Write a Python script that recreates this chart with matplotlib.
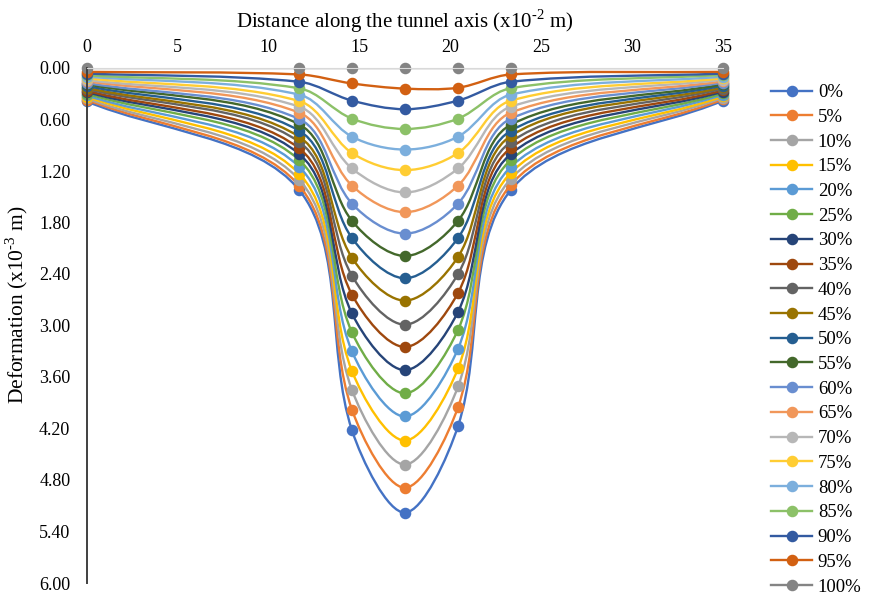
import numpy as np
import matplotlib
matplotlib.use("Agg")
import matplotlib.pyplot as plt
from matplotlib.path import Path
from matplotlib.patches import PathPatch
from matplotlib.lines import Line2D

plt.rcParams['font.family'] = ['Liberation Serif', 'DejaVu Serif']
plt.rcParams['mathtext.fontset'] = 'custom'
plt.rcParams['mathtext.rm'] = 'Liberation Serif'

# distance along the tunnel axis (x10^-2 m)
distance = [0, 11.67, 14.58, 17.5, 20.42, 23.33, 35]
labels = ['%d%%' % p for p in range(0, 101, 5)]

# deformation (x10^-3 m) at each distance, series 0% ... 100%
at_0 = [0.39, 0.37, 0.355, 0.335, 0.32, 0.30, 0.28, 0.265, 0.245, 0.23, 0.21,
        0.19, 0.175, 0.155, 0.14, 0.12, 0.10, 0.085, 0.065, 0.045, 0.00]
at_11 = [1.42, 1.37, 1.30, 1.23, 1.15, 1.07, 1.00, 0.935, 0.86, 0.80, 0.73,
         0.656, 0.594, 0.52, 0.45, 0.385, 0.31, 0.236, 0.16, 0.075, 0.00]
at_14 = [4.22, 3.98, 3.75, 3.53, 3.30, 3.08, 2.86, 2.64, 2.42, 2.21, 1.98,
         1.78, 1.58, 1.37, 1.17, 0.99, 0.80, 0.59, 0.38, 0.18, 0.00]
at_17 = [5.18, 4.89, 4.62, 4.34, 4.06, 3.79, 3.52, 3.25, 2.99, 2.71, 2.45,
         2.19, 1.93, 1.68, 1.45, 1.19, 0.95, 0.71, 0.48, 0.24, 0.00]
at_20 = [4.17, 3.95, 3.71, 3.50, 3.27, 3.05, 2.84, 2.62, 2.40, 2.20, 1.98,
         1.78, 1.58, 1.37, 1.17, 0.99, 0.80, 0.59, 0.38, 0.23, 0.00]
at_23 = [1.42, 1.36, 1.29, 1.22, 1.15, 1.07, 1.00, 0.93, 0.86, 0.79, 0.73,
         0.66, 0.59, 0.52, 0.45, 0.38, 0.31, 0.235, 0.16, 0.075, 0.00]
at_35 = [0.38, 0.365, 0.345, 0.33, 0.31, 0.295, 0.275, 0.26, 0.24, 0.225, 0.205,
         0.19, 0.17, 0.155, 0.135, 0.12, 0.10, 0.08, 0.065, 0.045, 0.00]

colors = ['#4472C4', '#ED7D31', '#A5A5A5', '#FFC000', '#5B9BD5', '#70AD47',
          '#264478', '#9E480E', '#636363', '#997300', '#255E91', '#43682B',
          '#698ED0', '#F1975A', '#B7B7B7', '#FFCD33', '#7CAFDD', '#8CC168',
          '#335AA1', '#D26012', '#848484']

W, H = 869, 599
fig = plt.figure(figsize=(W / 100, H / 100), dpi=100)
ax = fig.add_axes([87 / W, 1 - 583 / H, (723 - 87) / W, (583 - 68) / H])
ax.set_xlim(0, 35)
ax.set_ylim(6, 0)


def smooth_path(xs, ys):
    # excel-like smoothed line: bezier segments, tangents worked out in pixels
    pts = ax.transData.transform(np.column_stack([xs, ys]))
    n = len(pts)
    verts = [pts[0]]
    codes = [Path.MOVETO]
    for i in range(n - 1):
        p0 = pts[max(i - 1, 0)]
        p1 = pts[i]
        p2 = pts[i + 1]
        p3 = pts[min(i + 2, n - 1)]
        d01 = np.hypot(*(p1 - p0))
        d12 = np.hypot(*(p2 - p1))
        d23 = np.hypot(*(p3 - p2))
        c1 = p1 + (p2 - p0) * d12 / (3 * (d01 + d12))
        c2 = p2 - (p3 - p1) * d12 / (3 * (d12 + d23))
        verts += [c1, c2, p2]
        codes += [Path.CURVE4] * 3
    verts = ax.transData.inverted().transform(np.array(verts))
    return Path(verts, codes)


columns = [at_0, at_11, at_14, at_17, at_20, at_23, at_35]
handles = []
for k, lab in enumerate(labels):
    ys = [col[k] for col in columns]
    ax.add_patch(PathPatch(smooth_path(distance, ys), facecolor='none',
                           edgecolor=colors[k], lw=1.7, zorder=2 + k * 0.01,
                           capstyle='round', joinstyle='round'))
    ax.plot(distance, ys, linestyle='none', marker='o', ms=7.3,
            color=colors[k], zorder=2 + k * 0.01, clip_on=False)
    handles.append(Line2D([0], [0], color=colors[k], lw=1.7, marker='o', ms=7.3))

ax.xaxis.tick_top()
ax.xaxis.set_label_position('top')
ax.set_xticks(np.arange(0, 36, 5))
ax.set_yticks(np.arange(0, 6.01, 0.6))
ax.set_yticklabels(['%.2f' % v for v in np.arange(0, 6.01, 0.6)])
ax.tick_params(length=0, labelsize=13, colors='#000000')
ax.tick_params(axis='y', pad=12)
ax.tick_params(axis='x', pad=9)
ax.set_xlabel(r'Distance along the tunnel axis (x10$^{\text{-2}}$ m)',
              fontsize=15, labelpad=8)
ax.set_ylabel(r'Deformation (x10$^{\text{-3}}$ m)', fontsize=15.5)
ax.yaxis.set_label_coords(-0.089, 0.54)

for s in ['right', 'bottom']:
    ax.spines[s].set_visible(False)
ax.spines['top'].set_color('#D9D9D9')
ax.spines['left'].set_color('#404040')
ax.spines['left'].set_linewidth(1.4)

fig.legend(handles, labels, loc='upper left', bbox_to_anchor=(771 / W, 1 - 84 / H),
           frameon=False, fontsize=13.5, handlelength=2.2, handletextpad=0.3,
           labelspacing=0.405, borderaxespad=0, borderpad=0)

fig.savefig('out.png', dpi=100)
